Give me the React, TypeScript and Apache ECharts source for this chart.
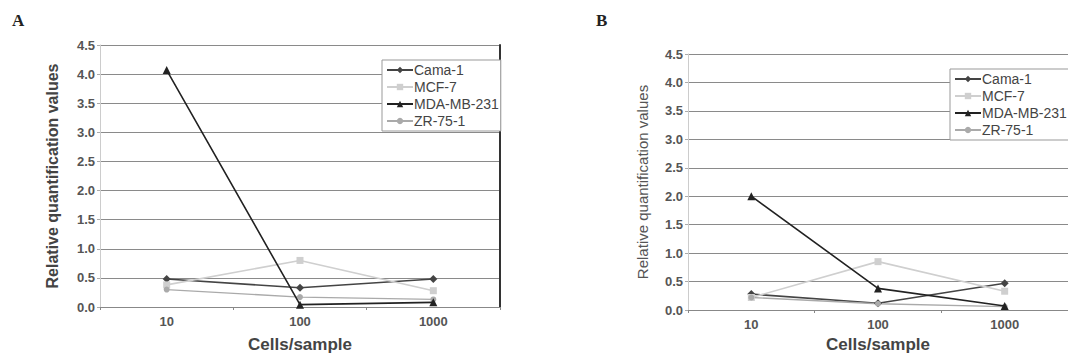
import React, { useEffect, useRef } from "react";
import * as echarts from "echarts";

const categories = ["10", "100", "1000"];
const seriesNames = ["Cama-1", "MCF-7", "MDA-MB-231", "ZR-75-1"];

// Panel A values
const camaA = [0.48, 0.33, 0.48];
const mcfA = [0.38, 0.8, 0.28];
const mdaA = [4.07, 0.04, 0.08];
const zrA = [0.3, 0.17, 0.13];

// Panel B values
const camaB = [0.28, 0.12, 0.47];
const mcfB = [0.22, 0.85, 0.33];
const mdaB = [2.0, 0.38, 0.07];
const zrB = [0.22, 0.11, 0.06];

const yTicks = { min: 0, max: 4.5, interval: 0.5 };

const styles = [
  { color: "#444", symbol: "diamond", size: 8, width: 1.6 },
  { color: "#cfcfcf", symbol: "rect", size: 7, width: 1.6 },
  { color: "#222", symbol: "triangle", size: 8, width: 1.6 },
  { color: "#aaa", symbol: "circle", size: 6, width: 1.3 },
];

export default function App() {
  const ref = useRef<HTMLDivElement>(null);
  useEffect(() => {
    if (!ref.current) return;
    const chart = echarts.init(ref.current, undefined, { renderer: "svg" });
    const font = "Liberation Sans, Arial, sans-serif";
    const dataA = [camaA, mcfA, mdaA, zrA];
    const dataB = [camaB, mcfB, mdaB, zrB];

    const mkX = (gridIndex: number, nameGap: number) => ({
      type: "category",
      gridIndex,
      data: categories,
      boundaryGap: true,
      axisLine: { show: true, lineStyle: { color: "#888", width: 1 } },
      axisTick: { show: true, length: 3, lineStyle: { color: "#888" } },
      axisLabel: { margin: 8, fontFamily: font, fontSize: 13, fontWeight: "bold", color: "#555" },
      name: "Cells/sample",
      nameLocation: "middle",
      nameGap,
      nameTextStyle: { fontFamily: font, fontSize: 17, fontWeight: "bold", color: "#444" },
    });
    const mkY = (gridIndex: number, nameGap: number, bold: boolean, size: number, color: string) => ({
      type: "value",
      gridIndex,
      min: yTicks.min,
      max: yTicks.max,
      interval: yTicks.interval,
      axisLine: { show: true, lineStyle: { color: "#ccc", width: 1 } },
      axisTick: { show: true, length: 3, lineStyle: { color: "#aaa" } },
      splitLine: { show: true, lineStyle: { color: "#8a8a8a", width: 1 } },
      axisLabel: {
        margin: 5,
        fontFamily: font,
        fontSize: 13,
        fontWeight: "bold",
        color: "#555",
        formatter: (v: number) => v.toFixed(1),
      },
      name: "Relative quantification values",
      nameLocation: "middle",
      nameGap,
      nameTextStyle: { fontFamily: font, fontSize: size, fontWeight: bold ? "bold" : "normal", color },
    });

    const series: any[] = [];
    [dataA, dataB].forEach((d, gi) => {
      d.forEach((vals, i) => {
        const s = styles[i];
        series.push({
          type: "line",
          name: seriesNames[i],
          xAxisIndex: gi,
          yAxisIndex: gi,
          data: vals,
          symbol: s.symbol,
          symbolSize: s.size,
          lineStyle: { color: s.color, width: s.width },
          itemStyle: { color: s.color },
          z: i === 2 ? 5 : 3,
        });
      });
    });

    const legendBase = {
      orient: "vertical",
      itemWidth: 26,
      itemHeight: 8,
      itemGap: 3,
      data: seriesNames,
      borderColor: "#999",
      borderWidth: 1,
      borderRadius: 0,
      backgroundColor: "#fff",
      padding: [3, 2, 3, 4],
      textStyle: { fontFamily: font, fontSize: 14, color: "#444", padding: [0, 0, 0, -4] },
    };

    chart.setOption({
      animation: false,
      backgroundColor: "#fff",
      grid: [
        { left: 100, top: 45, width: 400, height: 266 },
        { left: 688, top: 54, width: 395, height: 262 },
      ],
      xAxis: [mkX(0, 29), mkX(1, 26)],
      yAxis: [
        mkY(0, 40, true, 16, "#444"),
        mkY(1, 38, false, 15, "#555"),
        {
          type: "value",
          gridIndex: 0,
          position: "right",
          min: yTicks.min,
          max: yTicks.max,
          interval: yTicks.interval,
          axisLine: { show: true, lineStyle: { color: "#333", width: 2 } },
          axisTick: { show: false },
          axisLabel: { show: false },
          splitLine: { show: false },
        },
      ],
      legend: [
        { ...legendBase, left: 382, top: 60 },
        { ...legendBase, left: 950, top: 69 },
      ],
      graphic: [
        { type: "text", left: 12, top: 12, style: { text: "A", font: "bold 17px 'Liberation Serif', serif", fill: "#222" } },
        { type: "text", left: 596, top: 12, style: { text: "B", font: "bold 17px 'Liberation Serif', serif", fill: "#222" } },
      ],
      series,
    });
    return () => chart.dispose();
  }, []);
  return <div ref={ref} style={{ position: "absolute", left: 0, top: 0, width: 1068, height: 358 }} />;
}
